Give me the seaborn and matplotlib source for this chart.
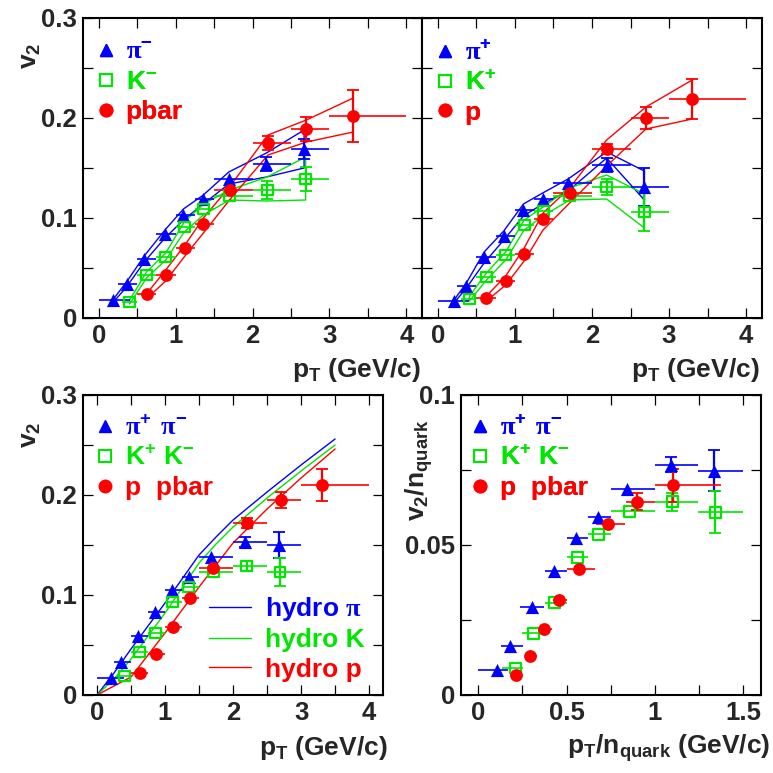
import numpy as np
import pandas as pd
import matplotlib
matplotlib.use('Agg')
import matplotlib.pyplot as plt
import seaborn as sns
from matplotlib.lines import Line2D
from matplotlib.ticker import MultipleLocator, FuncFormatter

# ---- top left: negative particles ----
pim_pt = [0.19, 0.36, 0.59, 0.86, 1.10, 1.36, 1.69, 2.18, 2.67]
pim_v2 = [0.018, 0.034, 0.059, 0.084, 0.103, 0.119, 0.139, 0.154, 0.169]
pim_err = [0.001, 0.001, 0.001, 0.002, 0.002, 0.002, 0.003, 0.007, 0.010]
pim_sys_hi = [0.019, 0.036, 0.062, 0.088, 0.109, 0.123, 0.146, 0.165, 0.188]
pim_sys_lo = [0.016, 0.031, 0.056, 0.080, 0.098, 0.114, 0.134, 0.141, 0.150]

km_pt = [0.40, 0.62, 0.87, 1.11, 1.36, 1.70, 2.19, 2.69]
km_v2 = [0.016, 0.043, 0.061, 0.091, 0.109, 0.122, 0.128, 0.139]
km_err = [0.001, 0.001, 0.002, 0.002, 0.002, 0.003, 0.009, 0.012]
km_sys_hi = [0.018, 0.046, 0.065, 0.096, 0.114, 0.128, 0.141, 0.161]
km_sys_lo = [0.014, 0.040, 0.058, 0.086, 0.103, 0.118, 0.117, 0.118]

pbar_pt = [0.63, 0.87, 1.12, 1.36, 1.70, 2.20, 2.70, 3.31]
pbar_v2 = [0.024, 0.043, 0.070, 0.094, 0.128, 0.175, 0.189, 0.202]
pbar_err = [0.001, 0.002, 0.002, 0.003, 0.003, 0.007, 0.012, 0.026]
pbar_sys_hi = [0.025, 0.048, 0.073, 0.100, 0.131, 0.183, 0.198, 0.220]
pbar_sys_lo = [0.020, 0.037, 0.062, 0.085, 0.118, 0.163, 0.176, 0.186]

# ---- top right: positive particles ----
pip_pt = [0.21, 0.37, 0.60, 0.855, 1.11, 1.36, 1.69, 2.19, 2.68]
pip_v2 = [0.017, 0.032, 0.061, 0.082, 0.108, 0.119, 0.135, 0.153, 0.131]
pip_err = [0.001, 0.001, 0.001, 0.002, 0.002, 0.002, 0.003, 0.007, 0.019]
pip_sys_hi = [0.018, 0.035, 0.066, 0.087, 0.114, 0.125, 0.139, 0.166, 0.147]
pip_sys_lo = [0.015, 0.030, 0.055, 0.078, 0.102, 0.114, 0.127, 0.160, 0.118]

kp_pt = [0.41, 0.63, 0.88, 1.12, 1.365, 1.71, 2.19, 2.68]
kp_v2 = [0.019, 0.041, 0.063, 0.093, 0.107, 0.122, 0.131, 0.106]
kp_err = [0.001, 0.001, 0.002, 0.002, 0.003, 0.003, 0.008, 0.019]
kp_sys_hi = [0.022, 0.045, 0.066, 0.098, 0.111, 0.130, 0.143, 0.124]
kp_sys_lo = [0.017, 0.038, 0.058, 0.088, 0.102, 0.118, 0.119, 0.090]

p_pt = [0.63, 0.88, 1.12, 1.365, 1.71, 2.19, 2.70, 3.30]
p_v2 = [0.020, 0.037, 0.064, 0.099, 0.125, 0.169, 0.200, 0.219]
p_err = [0.001, 0.002, 0.002, 0.003, 0.003, 0.005, 0.011, 0.020]
p_sys_hi = [0.022, 0.042, 0.070, 0.105, 0.130, 0.178, 0.211, 0.238]
p_sys_lo = [0.017, 0.033, 0.057, 0.088, 0.115, 0.152, 0.189, 0.199]

# ---- bottom left: combined charges + hydro ----
pi_pt = [0.20, 0.36, 0.60, 0.85, 1.11, 1.35, 1.68, 2.18, 2.68]
pi_v2 = [0.017, 0.033, 0.059, 0.083, 0.105, 0.118, 0.138, 0.153, 0.150]
pi_err = [0.001, 0.001, 0.001, 0.001, 0.002, 0.002, 0.002, 0.005, 0.013]
k_pt = [0.41, 0.63, 0.86, 1.11, 1.35, 1.71, 2.20, 2.69]
k_v2 = [0.019, 0.043, 0.062, 0.093, 0.108, 0.123, 0.129, 0.123]
k_err = [0.001, 0.001, 0.001, 0.002, 0.002, 0.002, 0.005, 0.014]
pp_pt = [0.63, 0.87, 1.12, 1.36, 1.71, 2.21, 2.70, 3.31]
pp_v2 = [0.022, 0.041, 0.068, 0.097, 0.127, 0.172, 0.195, 0.210]
pp_err = [0.001, 0.001, 0.002, 0.002, 0.002, 0.005, 0.008, 0.016]

# pT bin edges (horizontal bars)
pi_lo = [0.0, 0.25, 0.5, 0.75, 1.0, 1.25, 1.5, 2.0, 2.5]
pi_hi = [0.4, 0.5, 0.75, 1.0, 1.25, 1.5, 2.0, 2.5, 3.0]
k_lo = [0.3, 0.5, 0.75, 1.0, 1.25, 1.5, 2.0, 2.5]
k_hi = [0.5, 0.75, 1.0, 1.25, 1.5, 2.0, 2.5, 3.0]
p_lo = [0.5, 0.75, 1.0, 1.25, 1.5, 2.0, 2.5, 3.0]
p_hi = [0.75, 1.0, 1.25, 1.5, 2.0, 2.5, 3.0, 4.0]

hydro_pt = [0, 0.25, 0.5, 0.75, 1.0, 1.25, 1.5, 1.75, 2.0, 2.5, 3.0, 3.5]
hydro_pi = [0, 0.022, 0.046, 0.069, 0.092, 0.116, 0.140, 0.158, 0.175, 0.203, 0.230, 0.256]
hydro_k = [0, 0.016, 0.036, 0.059, 0.082, 0.107, 0.132, 0.151, 0.168, 0.197, 0.224, 0.250]
hydro_p = [0, 0.009, 0.018, 0.040, 0.062, 0.085, 0.108, 0.130, 0.152, 0.186, 0.217, 0.246]

# ---- bottom right: scaled by number of quarks ----
pin_x = [0.104, 0.179, 0.302, 0.428, 0.551, 0.679, 0.843, 1.089, 1.334]
pin_y = [0.0084, 0.0162, 0.0294, 0.0414, 0.0525, 0.0593, 0.0686, 0.0768, 0.0748]
pin_err = [0.0004, 0.0005, 0.0005, 0.0006, 0.0007, 0.0008, 0.001, 0.0025, 0.0068]
pin_lo = [0.0, 0.128, 0.236, 0.377, 0.5, 0.623, 0.749, 1.0, 1.245]
pin_hi = [0.17, 0.255, 0.372, 0.5, 0.623, 0.749, 1.0, 1.245, 1.5]

kn_x = [0.211, 0.315, 0.434, 0.560, 0.683, 0.855, 1.098, 1.343]
kn_y = [0.0090, 0.0206, 0.0307, 0.0459, 0.0536, 0.0612, 0.0645, 0.0609]
kn_err = [0.0004, 0.0005, 0.0006, 0.0007, 0.0008, 0.001, 0.003, 0.007]
kn_lo = [0.132, 0.245, 0.377, 0.5, 0.623, 0.749, 1.0, 1.245]
kn_hi = [0.251, 0.383, 0.5, 0.623, 0.749, 1.0, 1.245, 1.5]

pn_x = [0.213, 0.292, 0.374, 0.458, 0.572, 0.736, 0.900, 1.104]
pn_y = [0.0067, 0.0129, 0.0219, 0.0318, 0.0419, 0.0570, 0.0645, 0.0699]
pn_err = [0.0004, 0.0005, 0.0006, 0.0007, 0.0008, 0.001, 0.0028, 0.0054]
pn_lo = [0.179, 0.264, 0.340, 0.425, 0.5, 0.666, 0.836, 1.0]
pn_hi = [0.245, 0.330, 0.415, 0.5, 0.66, 0.83, 1.0, 1.377]

BLUE = '#0000ff'
GREEN = '#00e600'
RED = '#ff0000'

sns.set_theme(style='ticks')
plt.rcParams['font.family'] = ['Liberation Sans', 'DejaVu Sans']
plt.rcParams['font.weight'] = 'bold'
plt.rcParams['mathtext.fontset'] = 'custom'
plt.rcParams['mathtext.rm'] = 'Liberation Serif'
plt.rcParams['mathtext.bf'] = 'Liberation Sans:bold'
plt.rcParams['mathtext.default'] = 'bf'

W = 773.0


def ax_at(fig, x0, y0, x1, y1):
    return fig.add_axes([x0 / W, 1 - y1 / W, (x1 - x0) / W, (y1 - y0) / W])


def style(ax, xlim, ylim, xmaj, ymaj, show_y=True):
    ax.set_xlim(*xlim)
    ax.set_ylim(*ylim)
    ax.xaxis.set_major_locator(MultipleLocator(xmaj))
    ax.xaxis.set_minor_locator(MultipleLocator(xmaj / 2))
    ax.yaxis.set_major_locator(MultipleLocator(ymaj))
    ax.yaxis.set_minor_locator(MultipleLocator(ymaj / 2))
    fmt = FuncFormatter(lambda v, p: f'{v:g}')
    ax.xaxis.set_major_formatter(fmt)
    ax.yaxis.set_major_formatter(fmt)
    ax.tick_params(which='both', direction='in', top=True, right=True,
                   length=7, width=0.9, color='black', labelsize=18.5, pad=4)
    if not show_y:
        ax.tick_params(axis='y', labelleft=False)
    for lab in ax.get_xticklabels() + ax.get_yticklabels():
        lab.set_fontweight('bold')
    for s in ax.spines.values():
        s.set_linewidth(1.5)
        s.set_color('black')
    ax.set_xlabel('')
    ax.set_ylabel('')


def species(ax, pt, v2, err, lo, hi, color, marker, span, sys_hi=None, sys_lo=None):
    if sys_hi is not None:
        band = pd.DataFrame({'x': list(pt) + list(pt)[::-1] + [pt[0]],
                             'y': list(sys_hi) + list(sys_lo)[::-1] + [sys_hi[0]]})
        sns.lineplot(data=band, x='x', y='y', sort=False, estimator=None,
                     color=color, lw=1.0, ax=ax, zorder=2)
    pt = np.asarray(pt)
    v2 = np.asarray(v2)
    err = np.asarray(err)
    xerr = [pt - np.asarray(lo), np.asarray(hi) - pt]
    ax.errorbar(pt, v2, xerr=xerr, fmt='none', ecolor=color, elinewidth=1.2,
                capsize=0, zorder=3)
    # only errors that stick out of the marker get a visible bar with caps
    big = err / span > 0.012
    if big.any():
        ax.errorbar(pt[big], v2[big], yerr=err[big], fmt='none', ecolor=color,
                    elinewidth=1.6, capsize=4, capthick=1.3, zorder=3)
    if marker == 's':
        sns.scatterplot(x=pt, y=v2, marker='s', s=62, color=color,
                        facecolors='none', edgecolor=color, linewidth=1.6,
                        ax=ax, zorder=4)
    elif marker == '^':
        sns.scatterplot(x=pt, y=v2, marker='^', s=90, color=color,
                        edgecolor=color, linewidth=0, ax=ax, zorder=4)
    else:
        sns.scatterplot(x=pt, y=v2, marker='o', s=85, color=color,
                        edgecolor=color, linewidth=0, ax=ax, zorder=4)


def legend_markers(ax, labels, x0, top):
    handles = [
        Line2D([], [], ls='', marker='^', ms=8.5, color=BLUE, mec=BLUE),
        Line2D([], [], ls='', marker='s', ms=8, color=GREEN, mfc='none', mew=1.5),
        Line2D([], [], ls='', marker='o', ms=9, color=RED, mec=RED),
    ]
    leg = ax.legend(handles, labels, loc='upper left', bbox_to_anchor=(x0, top),
                    frameon=False, borderpad=0, borderaxespad=0, handlelength=0.8,
                    handletextpad=0.35, labelspacing=0.22, fontsize=19,
                    labelcolor='linecolor')
    ax.add_artist(leg)
    return leg


fig = plt.figure(figsize=(7.73, 7.73), dpi=100)

# top left
ax1 = ax_at(fig, 82.7, 18, 421.7, 318)
species(ax1, pim_pt, pim_v2, pim_err, pi_lo, pi_hi, BLUE, '^', 0.3, pim_sys_hi, pim_sys_lo)
species(ax1, km_pt, km_v2, km_err, k_lo, k_hi, GREEN, 's', 0.3, km_sys_hi, km_sys_lo)
species(ax1, pbar_pt, pbar_v2, pbar_err, p_lo, p_hi, RED, 'o', 0.3, pbar_sys_hi, pbar_sys_lo)
style(ax1, (-0.21, 4.2), (0, 0.3), 1, 0.1)
legend_markers(ax1, [r'$\mathrm{\pi}^{-}$', r'K$^{-}$', 'pbar'], 0.037, 0.925)

# top right
ax2 = ax_at(fig, 421.7, 18, 761.5, 318)
species(ax2, pip_pt, pip_v2, pip_err, pi_lo, pi_hi, BLUE, '^', 0.3, pip_sys_hi, pip_sys_lo)
species(ax2, kp_pt, kp_v2, kp_err, k_lo, k_hi, GREEN, 's', 0.3, kp_sys_hi, kp_sys_lo)
species(ax2, p_pt, p_v2, p_err, p_lo, p_hi, RED, 'o', 0.3, p_sys_hi, p_sys_lo)
style(ax2, (-0.21, 4.2), (0, 0.3), 1, 0.1, show_y=False)
legend_markers(ax2, [r'$\mathrm{\pi}^{+}$', r'K$^{+}$', 'p'], 0.037, 0.925)

# bottom left
ax3 = ax_at(fig, 82.7, 395, 382.7, 695)
hydro = pd.DataFrame({'pt': hydro_pt * 3,
                      'v2': hydro_pi + hydro_k + hydro_p,
                      'model': ['pi'] * len(hydro_pt) + ['K'] * len(hydro_pt) + ['p'] * len(hydro_pt)})
sns.lineplot(data=hydro, x='pt', y='v2', hue='model',
             palette={'pi': BLUE, 'K': GREEN, 'p': RED}, lw=1.0, ax=ax3,
             legend=False, zorder=2)
species(ax3, pi_pt, pi_v2, pi_err, pi_lo, pi_hi, BLUE, '^', 0.3)
species(ax3, k_pt, k_v2, k_err, k_lo, k_hi, GREEN, 's', 0.3)
species(ax3, pp_pt, pp_v2, pp_err, p_lo, p_hi, RED, 'o', 0.3)
style(ax3, (-0.21, 4.2), (0, 0.3), 1, 0.1)
legend_markers(ax3, [r'$\mathrm{\pi}^{+}\ \mathrm{\pi}^{-}$', r'K$^{+}$ K$^{-}$', 'p  pbar'], 0.04, 0.93)
hyd_handles = [Line2D([], [], color=c, lw=1.0) for c in (BLUE, GREEN, RED)]
ax3.legend(hyd_handles, [r'hydro $\mathrm{\pi}$', 'hydro K', 'hydro p'],
           loc='lower left', bbox_to_anchor=(0.42, 0.045), frameon=False,
           borderpad=0, borderaxespad=0, handlelength=1.6, handletextpad=0.55,
           labelspacing=0.2, fontsize=19, labelcolor='linecolor')

# bottom right
ax4 = ax_at(fig, 460.7, 395, 760.7, 695)
species(ax4, pin_x, pin_y, pin_err, pin_lo, pin_hi, BLUE, '^', 0.1)
species(ax4, kn_x, kn_y, kn_err, kn_lo, kn_hi, GREEN, 's', 0.1)
species(ax4, pn_x, pn_y, pn_err, pn_lo, pn_hi, RED, 'o', 0.1)
style(ax4, (-0.1, 1.6), (0, 0.1), 0.5, 0.05)
legend_markers(ax4, [r'$\mathrm{\pi}^{+}\ \mathrm{\pi}^{-}$', r'K$^{+}$ K$^{-}$', 'p  pbar'], 0.03, 0.93)

# axis titles
fs = 19
fig.text(421 / W, 1 - 370 / W, r'$p_T$ (GeV/c)', ha='right', va='center', fontsize=fs, fontweight='bold')
fig.text(760 / W, 1 - 370 / W, r'$p_T$ (GeV/c)', ha='right', va='center', fontsize=fs, fontweight='bold')
fig.text(388 / W, 1 - 748 / W, r'$p_T$ (GeV/c)', ha='right', va='center', fontsize=fs, fontweight='bold')
fig.text(770 / W, 1 - 748 / W, r'$p_T/n_{quark}$ (GeV/c)', ha='right', va='center', fontsize=fs, fontweight='bold')
fig.text(31 / W, 1 - 56 / W, r'$v_2$', ha='center', va='center', rotation=90, fontsize=fs)
fig.text(31 / W, 1 - 435 / W, r'$v_2$', ha='center', va='center', rotation=90, fontsize=fs)
fig.text(419 / W, 1 - 470 / W, r'$v_2/n_{quark}$', ha='center', va='center', rotation=90, fontsize=fs)

fig.savefig('out.png', dpi=100, facecolor='white')
